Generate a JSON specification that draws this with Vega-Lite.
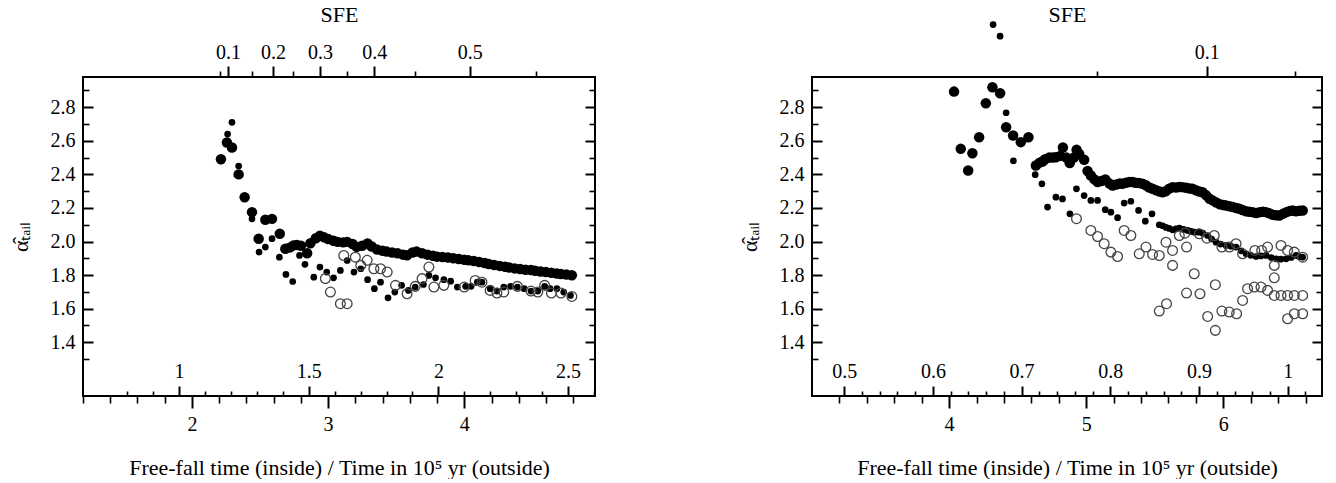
{
  "$schema": "https://vega.github.io/schema/vega-lite/v6.json",
  "padding": {"left": 8, "top": 2, "right": 0, "bottom": 0},
  "spacing": 140,
  "config": {
    "font": "Liberation Serif",
    "view": {"stroke": "black", "strokeWidth": 2},
    "style": {
      "guide-label": {"font": "Liberation Serif", "fontSize": 20, "fill": "black"},
      "guide-title": {"font": "Liberation Serif", "fontSize": 22, "fontWeight": "normal", "fill": "black"}
    },
    "axis": {
      "labelFont": "Liberation Serif", "titleFont": "Liberation Serif",
      "labelFontSize": 20, "titleFontSize": 22, "titleFontWeight": "normal",
      "labelColor": "black", "titleColor": "black", "tickColor": "black",
      "tickWidth": 1.6, "domain": false, "grid": false,
      "labelFlush": false, "labelOverlap": false
    }
  },
  "datasets": {
    "p1": [
      {"t":2.213,"a":2.49,"s":"B"},{"t":2.257,"a":2.59,"s":"B"},{"t":2.294,"a":2.56,"s":"B"},{"t":2.343,"a":2.40,"s":"B"},{"t":2.387,"a":2.264,"s":"B"},{"t":2.441,"a":2.175,"s":"B"},{"t":2.49,"a":2.017,"s":"B"},{"t":2.539,"a":2.13,"s":"B"},{"t":2.588,"a":2.135,"s":"B"},{"t":2.645,"a":2.046,"s":"B"},{"t":2.686,"a":1.957,"s":"B"},{"t":2.72,"a":1.965,"s":"B"},{"t":2.745,"a":1.977,"s":"B"},{"t":2.77,"a":1.98,"s":"B"},{"t":2.80,"a":1.975,"s":"B"},{"t":2.846,"a":1.93,"s":"B"},{"t":2.87,"a":1.99,"s":"B"},{"t":2.91,"a":2.02,"s":"B"},{"t":2.94,"a":2.035,"s":"B"},{"t":2.97,"a":2.025,"s":"B"},{"t":3.00,"a":2.015,"s":"B"},{"t":3.04,"a":2.005,"s":"B"},{"t":3.07,"a":1.998,"s":"B"},{"t":3.11,"a":1.995,"s":"B"},{"t":3.14,"a":1.998,"s":"B"},{"t":3.18,"a":1.985,"s":"B"},{"t":3.21,"a":1.968,"s":"B"},{"t":3.25,"a":1.975,"s":"B"},{"t":3.29,"a":1.988,"s":"B"},{"t":3.32,"a":1.97,"s":"B"},{"t":3.36,"a":1.952,"s":"B"},{"t":3.40,"a":1.945,"s":"B"},{"t":3.43,"a":1.94,"s":"B"},{"t":3.47,"a":1.935,"s":"B"},{"t":3.51,"a":1.93,"s":"B"},{"t":3.55,"a":1.922,"s":"B"},{"t":3.58,"a":1.918,"s":"B"},{"t":3.62,"a":1.935,"s":"B"},{"t":3.65,"a":1.94,"s":"B"},{"t":3.69,"a":1.93,"s":"B"},{"t":3.73,"a":1.922,"s":"B"},{"t":3.77,"a":1.915,"s":"B"},{"t":3.80,"a":1.91,"s":"B"},{"t":3.84,"a":1.908,"s":"B"},{"t":3.88,"a":1.905,"s":"B"},{"t":3.92,"a":1.9,"s":"B"},{"t":3.96,"a":1.896,"s":"B"},{"t":4.00,"a":1.892,"s":"B"},{"t":4.03,"a":1.888,"s":"B"},{"t":4.07,"a":1.884,"s":"B"},{"t":4.11,"a":1.878,"s":"B"},{"t":4.15,"a":1.872,"s":"B"},{"t":4.18,"a":1.866,"s":"B"},{"t":4.22,"a":1.86,"s":"B"},{"t":4.26,"a":1.855,"s":"B"},{"t":4.30,"a":1.85,"s":"B"},{"t":4.33,"a":1.845,"s":"B"},{"t":4.37,"a":1.84,"s":"B"},{"t":4.41,"a":1.836,"s":"B"},{"t":4.45,"a":1.832,"s":"B"},{"t":4.49,"a":1.83,"s":"B"},{"t":4.52,"a":1.826,"s":"B"},{"t":4.56,"a":1.822,"s":"B"},{"t":4.60,"a":1.818,"s":"B"},{"t":4.64,"a":1.814,"s":"B"},{"t":4.68,"a":1.81,"s":"B"},{"t":4.71,"a":1.806,"s":"B"},{"t":4.75,"a":1.803,"s":"B"},{"t":4.79,"a":1.799,"s":"B"},
      {"t":2.262,"a":2.64,"s":"S"},{"t":2.294,"a":2.71,"s":"S"},{"t":2.343,"a":2.45,"s":"S"},{"t":2.441,"a":2.135,"s":"S"},{"t":2.493,"a":1.937,"s":"S"},{"t":2.539,"a":1.967,"s":"S"},{"t":2.588,"a":2.017,"s":"S"},{"t":2.642,"a":1.907,"s":"S"},{"t":2.69,"a":1.804,"s":"S"},{"t":2.74,"a":1.762,"s":"S"},{"t":2.79,"a":1.917,"s":"S"},{"t":2.83,"a":1.864,"s":"S"},{"t":2.895,"a":1.788,"s":"S"},{"t":2.94,"a":1.848,"s":"S"},{"t":2.99,"a":1.818,"s":"S"},{"t":3.04,"a":1.784,"s":"S"},{"t":3.09,"a":1.828,"s":"S"},{"t":3.14,"a":1.887,"s":"S"},{"t":3.19,"a":1.818,"s":"S"},{"t":3.24,"a":1.838,"s":"S"},{"t":3.29,"a":1.773,"s":"S"},{"t":3.34,"a":1.719,"s":"S"},{"t":3.385,"a":1.758,"s":"S"},{"t":3.44,"a":1.665,"s":"S"},{"t":3.49,"a":1.699,"s":"S"},{"t":3.54,"a":1.739,"s":"S"},{"t":3.59,"a":1.709,"s":"S"},{"t":3.64,"a":1.729,"s":"S"},{"t":3.70,"a":1.744,"s":"S"},{"t":3.74,"a":1.798,"s":"S"},{"t":3.789,"a":1.784,"s":"S"},{"t":3.85,"a":1.773,"s":"S"},{"t":3.90,"a":1.764,"s":"S"},{"t":3.949,"a":1.729,"s":"S"},{"t":4.01,"a":1.733,"s":"S"},{"t":4.05,"a":1.733,"s":"S"},{"t":4.096,"a":1.758,"s":"S"},{"t":4.13,"a":1.758,"s":"S"},{"t":4.19,"a":1.719,"s":"S"},{"t":4.24,"a":1.705,"s":"S"},{"t":4.29,"a":1.729,"s":"S"},{"t":4.34,"a":1.733,"s":"S"},{"t":4.39,"a":1.729,"s":"S"},{"t":4.44,"a":1.719,"s":"S"},{"t":4.49,"a":1.705,"s":"S"},{"t":4.54,"a":1.705,"s":"S"},{"t":4.59,"a":1.733,"s":"S"},{"t":4.63,"a":1.719,"s":"S"},{"t":4.68,"a":1.719,"s":"S"},{"t":4.73,"a":1.699,"s":"S"},{"t":4.78,"a":1.679,"s":"S"},
      {"t":2.98,"a":1.78,"s":"O"},{"t":3.017,"a":1.699,"s":"O"},{"t":3.09,"a":1.63,"s":"O"},{"t":3.14,"a":1.63,"s":"O"},{"t":3.115,"a":1.917,"s":"O"},{"t":3.20,"a":1.907,"s":"O"},{"t":3.24,"a":1.858,"s":"O"},{"t":3.287,"a":1.888,"s":"O"},{"t":3.336,"a":1.838,"s":"O"},{"t":3.385,"a":1.838,"s":"O"},{"t":3.434,"a":1.818,"s":"O"},{"t":3.495,"a":1.739,"s":"O"},{"t":3.58,"a":1.689,"s":"O"},{"t":3.64,"a":1.733,"s":"O"},{"t":3.69,"a":1.779,"s":"O"},{"t":3.74,"a":1.848,"s":"O"},{"t":3.777,"a":1.729,"s":"O"},{"t":3.85,"a":1.739,"s":"O"},{"t":4.0,"a":1.729,"s":"O"},{"t":4.08,"a":1.768,"s":"O"},{"t":4.13,"a":1.758,"s":"O"},{"t":4.19,"a":1.709,"s":"O"},{"t":4.24,"a":1.693,"s":"O"},{"t":4.29,"a":1.699,"s":"O"},{"t":4.39,"a":1.733,"s":"O"},{"t":4.49,"a":1.705,"s":"O"},{"t":4.54,"a":1.699,"s":"O"},{"t":4.59,"a":1.739,"s":"O"},{"t":4.64,"a":1.693,"s":"O"},{"t":4.71,"a":1.693,"s":"O"},{"t":4.79,"a":1.673,"s":"O"}
    ],
    "p2": [
      {"t":4.036,"a":2.893,"s":"B"},{"t":4.085,"a":2.552,"s":"B"},{"t":4.139,"a":2.423,"s":"B"},{"t":4.17,"a":2.526,"s":"B"},{"t":4.219,"a":2.621,"s":"B"},{"t":4.268,"a":2.824,"s":"B"},{"t":4.316,"a":2.919,"s":"B"},{"t":4.372,"a":2.883,"s":"B"},{"t":4.416,"a":2.681,"s":"B"},{"t":4.467,"a":2.632,"s":"B"},{"t":4.523,"a":2.592,"s":"B"},{"t":4.579,"a":2.621,"s":"B"},{"t":4.633,"a":2.453,"s":"B"},{"t":4.66,"a":2.47,"s":"B"},{"t":4.681,"a":2.477,"s":"B"},{"t":4.70,"a":2.49,"s":"B"},{"t":4.73,"a":2.50,"s":"B"},{"t":4.755,"a":2.50,"s":"B"},{"t":4.779,"a":2.502,"s":"B"},{"t":4.81,"a":2.51,"s":"B"},{"t":4.83,"a":2.56,"s":"B"},{"t":4.855,"a":2.50,"s":"B"},{"t":4.88,"a":2.467,"s":"B"},{"t":4.91,"a":2.50,"s":"B"},{"t":4.93,"a":2.546,"s":"B"},{"t":4.949,"a":2.522,"s":"B"},{"t":4.985,"a":2.487,"s":"B"},{"t":5.01,"a":2.42,"s":"B"},{"t":5.034,"a":2.393,"s":"B"},{"t":5.06,"a":2.37,"s":"B"},{"t":5.083,"a":2.354,"s":"B"},{"t":5.11,"a":2.36,"s":"B"},{"t":5.14,"a":2.37,"s":"B"},{"t":5.17,"a":2.345,"s":"B"},{"t":5.193,"a":2.334,"s":"B"},{"t":5.22,"a":2.34,"s":"B"},{"t":5.245,"a":2.345,"s":"B"},{"t":5.265,"a":2.344,"s":"B"},{"t":5.29,"a":2.35,"s":"B"},{"t":5.315,"a":2.355,"s":"B"},{"t":5.338,"a":2.354,"s":"B"},{"t":5.36,"a":2.35,"s":"B"},{"t":5.385,"a":2.348,"s":"B"},{"t":5.411,"a":2.344,"s":"B"},{"t":5.435,"a":2.335,"s":"B"},{"t":5.46,"a":2.322,"s":"B"},{"t":5.484,"a":2.314,"s":"B"},{"t":5.51,"a":2.305,"s":"B"},{"t":5.535,"a":2.298,"s":"B"},{"t":5.557,"a":2.294,"s":"B"},{"t":5.58,"a":2.3,"s":"B"},{"t":5.605,"a":2.315,"s":"B"},{"t":5.63,"a":2.324,"s":"B"},{"t":5.655,"a":2.322,"s":"B"},{"t":5.68,"a":2.325,"s":"B"},{"t":5.703,"a":2.324,"s":"B"},{"t":5.73,"a":2.32,"s":"B"},{"t":5.755,"a":2.316,"s":"B"},{"t":5.776,"a":2.314,"s":"B"},{"t":5.80,"a":2.305,"s":"B"},{"t":5.825,"a":2.298,"s":"B"},{"t":5.849,"a":2.294,"s":"B"},{"t":5.875,"a":2.275,"s":"B"},{"t":5.90,"a":2.255,"s":"B"},{"t":5.922,"a":2.245,"s":"B"},{"t":5.95,"a":2.232,"s":"B"},{"t":5.975,"a":2.222,"s":"B"},{"t":6.00,"a":2.218,"s":"B"},{"t":6.02,"a":2.215,"s":"B"},{"t":6.045,"a":2.21,"s":"B"},{"t":6.07,"a":2.205,"s":"B"},{"t":6.095,"a":2.2,"s":"B"},{"t":6.117,"a":2.195,"s":"B"},{"t":6.14,"a":2.188,"s":"B"},{"t":6.165,"a":2.18,"s":"B"},{"t":6.19,"a":2.177,"s":"B"},{"t":6.214,"a":2.175,"s":"B"},{"t":6.24,"a":2.17,"s":"B"},{"t":6.265,"a":2.175,"s":"B"},{"t":6.29,"a":2.177,"s":"B"},{"t":6.312,"a":2.175,"s":"B"},{"t":6.335,"a":2.168,"s":"B"},{"t":6.36,"a":2.16,"s":"B"},{"t":6.385,"a":2.156,"s":"B"},{"t":6.409,"a":2.155,"s":"B"},{"t":6.435,"a":2.165,"s":"B"},{"t":6.46,"a":2.175,"s":"B"},{"t":6.485,"a":2.182,"s":"B"},{"t":6.506,"a":2.185,"s":"B"},{"t":6.53,"a":2.18,"s":"B"},{"t":6.555,"a":2.183,"s":"B"},{"t":6.579,"a":2.185,"s":"B"},
      {"t":4.321,"a":3.292,"s":"S"},{"t":4.372,"a":3.223,"s":"S"},{"t":4.416,"a":2.767,"s":"S"},{"t":4.469,"a":2.481,"s":"S"},{"t":4.628,"a":2.398,"s":"S"},{"t":4.677,"a":2.344,"s":"S"},{"t":4.718,"a":2.205,"s":"S"},{"t":4.779,"a":2.264,"s":"S"},{"t":4.827,"a":2.254,"s":"S"},{"t":4.881,"a":2.165,"s":"S"},{"t":4.929,"a":2.314,"s":"S"},{"t":4.985,"a":2.274,"s":"S"},{"t":5.034,"a":2.245,"s":"S"},{"t":5.083,"a":2.245,"s":"S"},{"t":5.139,"a":2.19,"s":"S"},{"t":5.18,"a":2.175,"s":"S"},{"t":5.229,"a":2.142,"s":"S"},{"t":5.277,"a":2.229,"s":"S"},{"t":5.326,"a":2.24,"s":"S"},{"t":5.382,"a":2.185,"s":"S"},{"t":5.431,"a":2.121,"s":"S"},{"t":5.48,"a":2.165,"s":"S"},{"t":5.533,"a":2.10,"s":"S"},{"t":5.558,"a":2.094,"s":"S"},{"t":5.582,"a":2.084,"s":"S"},{"t":5.605,"a":2.078,"s":"S"},{"t":5.63,"a":2.07,"s":"S"},{"t":5.655,"a":2.075,"s":"S"},{"t":5.68,"a":2.08,"s":"S"},{"t":5.71,"a":2.072,"s":"S"},{"t":5.74,"a":2.066,"s":"S"},{"t":5.765,"a":2.06,"s":"S"},{"t":5.79,"a":2.056,"s":"S"},{"t":5.82,"a":2.056,"s":"S"},{"t":5.85,"a":2.05,"s":"S"},{"t":5.885,"a":2.036,"s":"S"},{"t":5.915,"a":2.015,"s":"S"},{"t":5.947,"a":1.996,"s":"S"},{"t":5.98,"a":1.985,"s":"S"},{"t":6.02,"a":1.977,"s":"S"},{"t":6.055,"a":1.972,"s":"S"},{"t":6.093,"a":1.967,"s":"S"},{"t":6.13,"a":1.945,"s":"S"},{"t":6.166,"a":1.927,"s":"S"},{"t":6.2,"a":1.918,"s":"S"},{"t":6.239,"a":1.911,"s":"S"},{"t":6.275,"a":1.914,"s":"S"},{"t":6.312,"a":1.917,"s":"S"},{"t":6.35,"a":1.905,"s":"S"},{"t":6.385,"a":1.897,"s":"S"},{"t":6.42,"a":1.895,"s":"S"},{"t":6.458,"a":1.897,"s":"S"},{"t":6.495,"a":1.905,"s":"S"},{"t":6.531,"a":1.917,"s":"S"},{"t":6.555,"a":1.91,"s":"S"},{"t":6.579,"a":1.907,"s":"S"},
      {"t":4.929,"a":2.136,"s":"O"},{"t":5.034,"a":2.066,"s":"O"},{"t":5.083,"a":2.03,"s":"O"},{"t":5.131,"a":1.987,"s":"O"},{"t":5.18,"a":1.937,"s":"O"},{"t":5.229,"a":1.911,"s":"O"},{"t":5.277,"a":2.066,"s":"O"},{"t":5.326,"a":2.036,"s":"O"},{"t":5.387,"a":1.927,"s":"O"},{"t":5.436,"a":1.967,"s":"O"},{"t":5.484,"a":1.923,"s":"O"},{"t":5.533,"a":1.917,"s":"O"},{"t":5.582,"a":1.996,"s":"O"},{"t":5.63,"a":1.947,"s":"O"},{"t":5.63,"a":1.858,"s":"O"},{"t":5.679,"a":2.036,"s":"O"},{"t":5.72,"a":2.05,"s":"O"},{"t":5.732,"a":1.967,"s":"O"},{"t":5.788,"a":1.808,"s":"O"},{"t":5.732,"a":1.693,"s":"O"},{"t":5.83,"a":1.689,"s":"O"},{"t":5.825,"a":2.046,"s":"O"},{"t":5.88,"a":2.02,"s":"O"},{"t":5.533,"a":1.586,"s":"O"},{"t":5.586,"a":1.63,"s":"O"},{"t":5.886,"a":1.554,"s":"O"},{"t":5.942,"a":1.743,"s":"O"},{"t":5.942,"a":1.471,"s":"O"},{"t":5.934,"a":2.036,"s":"O"},{"t":5.99,"a":1.967,"s":"O"},{"t":6.044,"a":1.967,"s":"O"},{"t":5.99,"a":1.586,"s":"O"},{"t":6.044,"a":1.58,"s":"O"},{"t":6.097,"a":1.57,"s":"O"},{"t":6.093,"a":1.987,"s":"O"},{"t":6.141,"a":1.927,"s":"O"},{"t":6.141,"a":1.649,"s":"O"},{"t":6.177,"a":1.719,"s":"O"},{"t":6.226,"a":1.729,"s":"O"},{"t":6.23,"a":1.947,"s":"O"},{"t":6.28,"a":1.947,"s":"O"},{"t":6.275,"a":1.729,"s":"O"},{"t":6.323,"a":1.709,"s":"O"},{"t":6.372,"a":1.679,"s":"O"},{"t":6.421,"a":1.679,"s":"O"},{"t":6.469,"a":1.679,"s":"O"},{"t":6.518,"a":1.679,"s":"O"},{"t":6.579,"a":1.679,"s":"O"},{"t":6.323,"a":1.967,"s":"O"},{"t":6.372,"a":1.858,"s":"O"},{"t":6.372,"a":1.784,"s":"O"},{"t":6.421,"a":1.977,"s":"O"},{"t":6.469,"a":1.947,"s":"O"},{"t":6.518,"a":1.937,"s":"O"},{"t":6.579,"a":1.907,"s":"O"},{"t":6.469,"a":1.54,"s":"O"},{"t":6.518,"a":1.57,"s":"O"},{"t":6.579,"a":1.57,"s":"O"}
    ]
  },
  "hconcat": [
    {
      "width": 512, "height": 319,
      "resolve": {"axis": {"x": "independent", "y": "independent"}},
      "layer": [
        {
          "data": {"name": "p1"}, "transform": [{"filter": "datum.s == 'B'"}],
          "mark": {"type": "point", "shape": "circle", "filled": true, "color": "black", "opacity": 1, "size": 110},
          "encoding": {
            "x": {"field": "t", "type": "quantitative", "scale": {"domain": [1.2, 4.96], "nice": false, "zero": false},
                  "axis": {"orient": "bottom", "values": [2, 3, 4], "format": "d", "labelFont": "Liberation Serif", "labelFontSize": 20, "tickSize": 12, "tickWidth": 2, "labelPadding": 6, "title": "Free-fall time (inside) / Time in 10⁵ yr (outside)", "titleFont": "Liberation Serif", "titleFontSize": 22, "titlePadding": 23}},
            "y": {"field": "a", "type": "quantitative", "scale": {"domain": [1.08, 2.98], "nice": false, "zero": false},
                  "axis": {"orient": "left", "values": [1.4, 1.6, 1.8, 2.0, 2.2, 2.4, 2.6, 2.8], "format": ".1f", "labelFont": "Liberation Serif", "labelFontSize": 20, "tickSize": -10, "tickWidth": 2, "labelPadding": 18, "title": "α̂ₜₐᵢₗ", "titleFont": "Liberation Serif", "titleFontSize": 22, "titlePadding": 18}}
          }
        },
        {
          "data": {"name": "p1"}, "transform": [{"filter": "datum.s == 'S'"}],
          "mark": {"type": "point", "shape": "circle", "filled": true, "color": "black", "opacity": 1, "size": 45},
          "encoding": {
            "x": {"field": "t", "type": "quantitative", "scale": {"domain": [1.2, 4.96], "nice": false, "zero": false},
                  "axis": {"orient": "bottom", "values": [1.2, 1.4, 1.6, 1.8, 2.2, 2.4, 2.6, 2.8, 3.2, 3.4, 3.6, 3.8, 4.2, 4.4, 4.6, 4.8], "tickSize": 7, "labels": false, "title": null}},
            "y": {"field": "a", "type": "quantitative", "scale": {"domain": [1.08, 2.98], "nice": false, "zero": false},
                  "axis": {"orient": "left", "values": [1.3, 1.5, 1.7, 1.9, 2.1, 2.3, 2.5, 2.7, 2.9], "tickSize": -6, "labels": false, "title": null}}
          }
        },
        {
          "data": {"name": "p1"}, "transform": [{"filter": "datum.s == 'O'"}],
          "mark": {"type": "point", "shape": "circle", "filled": false, "stroke": "#444444", "strokeWidth": 1.3, "opacity": 1, "size": 95},
          "encoding": {
            "x": {"field": "t", "type": "quantitative", "scale": {"domain": [1.2, 4.96], "nice": false, "zero": false},
                  "axis": {"orient": "bottom", "values": [1.905, 2.8575, 3.81, 4.7625], "labelFont": "Liberation Serif", "labelFontSize": 20, "tickSize": -10, "tickWidth": 2, "labelBaseline": "middle", "labelPadding": -15, "labelExpr": "format(round(datum.value / 1.905 * 10) / 10, '~g')", "title": null}},
            "y": {"field": "a", "type": "quantitative", "scale": {"domain": [1.08, 2.98], "nice": false, "zero": false},
                  "axis": {"orient": "right", "values": [1.4, 1.6, 1.8, 2.0, 2.2, 2.4, 2.6, 2.8], "tickSize": -10, "tickWidth": 2, "labels": false, "title": null}}
          }
        },
        {
          "data": {"name": "p1"}, "transform": [{"filter": "datum.s == 'O'"}],
          "mark": {"type": "point", "opacity": 0},
          "encoding": {
            "x": {"field": "t", "type": "quantitative", "scale": {"domain": [1.2, 4.96], "nice": false, "zero": false},
                  "axis": {"orient": "bottom", "values": [1.524, 1.7145, 2.0955, 2.286, 2.4765, 2.667, 3.048, 3.2385, 3.429, 3.6195, 4.0005, 4.191, 4.3815, 4.572, 4.953], "tickSize": -5, "labels": false, "title": null}},
            "y": {"field": "a", "type": "quantitative", "scale": {"domain": [1.08, 2.98], "nice": false, "zero": false},
                  "axis": {"orient": "right", "values": [1.3, 1.5, 1.7, 1.9, 2.1, 2.3, 2.5, 2.7, 2.9], "tickSize": -6, "labels": false, "title": null}}
          }
        },
        {
          "data": {"name": "p1"}, "transform": [{"filter": "datum.s == 'O'"}],
          "mark": {"type": "point", "opacity": 0},
          "encoding": {
            "x": {"field": "t", "type": "quantitative", "scale": {"domain": [1.2, 4.96], "nice": false, "zero": false},
                  "axis": {"orient": "top", "values": [2.265, 2.596, 2.941, 3.338, 4.04], "labelFont": "Liberation Serif", "labelFontSize": 20, "tickSize": 11, "tickWidth": 2, "labelPadding": 4, "labelExpr": "datum.value < 2.4 ? '0.1' : datum.value < 2.7 ? '0.2' : datum.value < 3.1 ? '0.3' : datum.value < 3.6 ? '0.4' : '0.5'", "title": "SFE", "titleFont": "Liberation Serif", "titleFontSize": 22, "titlePadding": 16}},
            "y": {"field": "a", "type": "quantitative", "scale": {"domain": [1.08, 2.98], "nice": false, "zero": false}, "axis": null}
          }
        },
        {
          "data": {"name": "p1"}, "transform": [{"filter": "datum.s == 'O'"}],
          "mark": {"type": "point", "opacity": 0},
          "encoding": {
            "x": {"field": "t", "type": "quantitative", "scale": {"domain": [1.2, 4.96], "nice": false, "zero": false},
                  "axis": {"orient": "top", "values": [2.206, 2.441, 2.743, 3.14, 3.64, 4.53], "tickSize": 6, "labels": false, "title": null}},
            "y": {"field": "a", "type": "quantitative", "scale": {"domain": [1.08, 2.98], "nice": false, "zero": false}, "axis": null}
          }
        }
      ]
    },
    {
      "width": 510, "height": 319,
      "resolve": {"axis": {"x": "independent", "y": "independent"}},
      "layer": [
        {
          "data": {"name": "p2"}, "transform": [{"filter": "datum.s == 'B'"}],
          "mark": {"type": "point", "shape": "circle", "filled": true, "color": "black", "opacity": 1, "size": 110},
          "encoding": {
            "x": {"field": "t", "type": "quantitative", "scale": {"domain": [3.0, 6.72], "nice": false, "zero": false},
                  "axis": {"orient": "bottom", "values": [4, 5, 6], "format": "d", "labelFont": "Liberation Serif", "labelFontSize": 20, "tickSize": 12, "tickWidth": 2, "labelPadding": 6, "title": "Free-fall time (inside) / Time in 10⁵ yr (outside)", "titleFont": "Liberation Serif", "titleFontSize": 22, "titlePadding": 23}},
            "y": {"field": "a", "type": "quantitative", "scale": {"domain": [1.08, 2.98], "nice": false, "zero": false},
                  "axis": {"orient": "left", "values": [1.4, 1.6, 1.8, 2.0, 2.2, 2.4, 2.6, 2.8], "format": ".1f", "labelFont": "Liberation Serif", "labelFontSize": 20, "tickSize": -10, "tickWidth": 2, "labelPadding": 18, "title": "α̂ₜₐᵢₗ", "titleFont": "Liberation Serif", "titleFontSize": 22, "titlePadding": 18}}
          }
        },
        {
          "data": {"name": "p2"}, "transform": [{"filter": "datum.s == 'S'"}],
          "mark": {"type": "point", "shape": "circle", "filled": true, "color": "black", "opacity": 1, "size": 45},
          "encoding": {
            "x": {"field": "t", "type": "quantitative", "scale": {"domain": [3.0, 6.72], "nice": false, "zero": false},
                  "axis": {"orient": "bottom", "values": [3.2, 3.4, 3.6, 3.8, 4.2, 4.4, 4.6, 4.8, 5.2, 5.4, 5.6, 5.8, 6.2, 6.4, 6.6], "tickSize": 7, "labels": false, "title": null}},
            "y": {"field": "a", "type": "quantitative", "scale": {"domain": [1.08, 2.98], "nice": false, "zero": false},
                  "axis": {"orient": "left", "values": [1.3, 1.5, 1.7, 1.9, 2.1, 2.3, 2.5, 2.7, 2.9], "tickSize": -6, "labels": false, "title": null}}
          }
        },
        {
          "data": {"name": "p2"}, "transform": [{"filter": "datum.s == 'O'"}],
          "mark": {"type": "point", "shape": "circle", "filled": false, "stroke": "#444444", "strokeWidth": 1.3, "opacity": 1, "size": 95},
          "encoding": {
            "x": {"field": "t", "type": "quantitative", "scale": {"domain": [3.0, 6.72], "nice": false, "zero": false},
                  "axis": {"orient": "bottom", "values": [3.235, 3.882, 4.529, 5.176, 5.823, 6.47], "labelFont": "Liberation Serif", "labelFontSize": 20, "tickSize": -10, "tickWidth": 2, "labelBaseline": "middle", "labelPadding": -15, "labelExpr": "format(round(datum.value / 6.47 * 10) / 10, '~g')", "title": null}},
            "y": {"field": "a", "type": "quantitative", "scale": {"domain": [1.08, 2.98], "nice": false, "zero": false},
                  "axis": {"orient": "right", "values": [1.4, 1.6, 1.8, 2.0, 2.2, 2.4, 2.6, 2.8], "tickSize": -10, "tickWidth": 2, "labels": false, "title": null}}
          }
        },
        {
          "data": {"name": "p2"}, "transform": [{"filter": "datum.s == 'O'"}],
          "mark": {"type": "point", "opacity": 0},
          "encoding": {
            "x": {"field": "t", "type": "quantitative", "scale": {"domain": [3.0, 6.72], "nice": false, "zero": false},
                  "axis": {"orient": "bottom", "values": [3.3644, 3.4938, 3.6232, 3.7526, 4.0114, 4.1408, 4.2702, 4.3996, 4.6584, 4.7878, 4.9172, 5.0466, 5.3054, 5.4348, 5.5642, 5.6936, 5.9524, 6.0818, 6.2112, 6.3406, 6.5994], "tickSize": -5, "labels": false, "title": null}},
            "y": {"field": "a", "type": "quantitative", "scale": {"domain": [1.08, 2.98], "nice": false, "zero": false},
                  "axis": {"orient": "right", "values": [1.3, 1.5, 1.7, 1.9, 2.1, 2.3, 2.5, 2.7, 2.9], "tickSize": -6, "labels": false, "title": null}}
          }
        },
        {
          "data": {"name": "p2"}, "transform": [{"filter": "datum.s == 'O'"}],
          "mark": {"type": "point", "opacity": 0},
          "encoding": {
            "x": {"field": "t", "type": "quantitative", "scale": {"domain": [3.0, 6.72], "nice": false, "zero": false},
                  "axis": {"orient": "top", "values": [5.88], "labelFont": "Liberation Serif", "labelFontSize": 20, "tickSize": 11, "tickWidth": 2, "labelPadding": 4, "labelExpr": "'0.1'", "title": "SFE", "titleFont": "Liberation Serif", "titleFontSize": 22, "titlePadding": 16}},
            "y": {"field": "a", "type": "quantitative", "scale": {"domain": [1.08, 2.98], "nice": false, "zero": false}, "axis": null}
          }
        },
        {
          "data": {"name": "p2"}, "transform": [{"filter": "datum.s == 'O'"}],
          "mark": {"type": "point", "opacity": 0},
          "encoding": {
            "x": {"field": "t", "type": "quantitative", "scale": {"domain": [3.0, 6.72], "nice": false, "zero": false},
                  "axis": {"orient": "top", "values": [5.08, 6.52], "tickSize": 6, "labels": false, "title": null}},
            "y": {"field": "a", "type": "quantitative", "scale": {"domain": [1.08, 2.98], "nice": false, "zero": false}, "axis": null}
          }
        }
      ]
    }
  ]
}
